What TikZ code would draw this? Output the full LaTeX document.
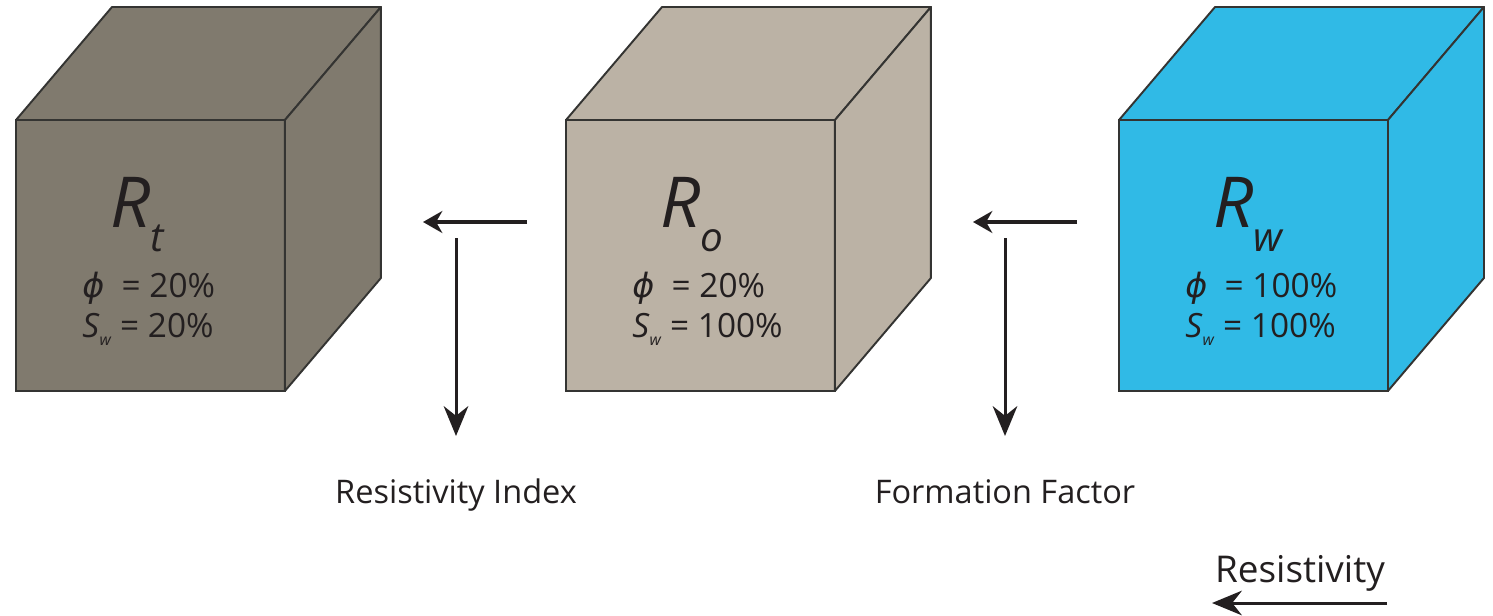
\documentclass[tikz,border=0pt]{standalone}
\usepackage{fontspec}
\setmainfont{Open Sans}
\newfontfamily\symfont{DejaVu Sans}
\usetikzlibrary{arrows.meta,calc}
\definecolor{rockdk}{RGB}{128,122,110}
\definecolor{rocklt}{RGB}{187,178,165}
\definecolor{brine}{RGB}{48,186,230}
\definecolor{edge}{RGB}{52,52,50}
\definecolor{ink}{RGB}{35,31,32}
\newcommand{\Rsub}[1]{{\fontsize{40}{40}\selectfont\textit{R}}\raisebox{-14pt}{\fontsize{23}{23}\selectfont\textit{#1}}}
\newcommand{\Swat}{\textit{S}\raisebox{-5pt}{\fontsize{9}{9}\selectfont\textit{w}}}
\newcommand{\poro}{{\symfont\itshape ϕ}}
\tikzset{
  front/.style={draw=edge, line width=1.1pt, inner sep=0pt, outer sep=0pt,
                minimum width=5.38cm, minimum height=5.42cm, anchor=north west},
  face/.style={draw=edge, line width=1.1pt, line join=round},
  rlab/.style={anchor=base west, inner sep=0pt, text=ink},
  vlab/.style={anchor=base west, inner sep=0pt, text=ink, font=\fontsize{19}{19}\selectfont},
  clab/.style={anchor=base, inner sep=0pt, text=ink, font=\fontsize{18.5}{18.5}\selectfont},
  hl/.style={-{Stealth[length=11pt, width=12.5pt]}, ink, line width=2.3pt},
  vl/.style={-{Stealth[length=17pt, width=14pt]}, ink, line width=1.7pt},
}

\begin{document}
\begin{tikzpicture}[x=0.02cm, y=-0.02cm]
  \useasboundingbox (0,0) rectangle (1493,615);
  \foreach \n/\x/\c in {rt/16/rockdk, ro/566/rocklt, rw/1119/brine}{
    \node[front, fill=\c] (\n) at (\x,120) {};
    \draw[face, fill=\c] (\n.north west) -- ++(96,-113) -- ++(269,0) -- (\n.north east) -- cycle;
    \draw[face, fill=\c] (\n.north east) -- ++(96,-113) -- ++(0,271) -- (\n.south east) -- cycle;
  }
  \node[rlab] (rt-r) at ($(rt.north west)+(94,107)$) {\Rsub{t}};
  \node[vlab] (rt-phi) at ($(rt.north west)+(66,177)$) {\poro\ \ = 20\%};
  \node[vlab] (rt-sw) at ($(rt.north west)+(66,217)$) {\Swat\ = 20\%};
  \node[rlab] (ro-r) at ($(ro.north west)+(94,107)$) {\Rsub{o}};
  \node[vlab] (ro-phi) at ($(ro.north west)+(66,177)$) {\poro\ \ = 20\%};
  \node[vlab] (ro-sw) at ($(ro.north west)+(66,217)$) {\Swat\ = 100\%};
  \node[rlab] (rw-r) at ($(rw.north west)+(94,107)$) {\Rsub{w}};
  \node[vlab] (rw-phi) at ($(rw.north west)+(66,177)$) {\poro\ \ = 100\%};
  \node[vlab] (rw-sw) at ($(rw.north west)+(66,217)$) {\Swat\ = 100\%};

  \node[clab] (ri) at (456,503) {Resistivity Index};
  \node[clab] (ff) at (1005,503) {Formation Factor};
  \node[clab, font=\fontsize{21}{21}\selectfont] (res) at (1300,582) {Resistivity};

  \coordinate (ri-h) at (527,222); \coordinate (ri-ht) at (423,222);
  \coordinate (ri-v) at (456,238); \coordinate (ri-vt) at (456,436);
  \coordinate (ff-h) at (1077,222); \coordinate (ff-ht) at (973,222);
  \coordinate (ff-v) at (1005,238); \coordinate (ff-vt) at (1005,436);
  \coordinate (res-a) at (1387,603); \coordinate (res-b) at (1212,603);
  \draw[hl] (ri-h) -- (ri-ht);
  \draw[vl] (ri-v) -- (ri-vt);
  \draw[hl] (ff-h) -- (ff-ht);
  \draw[vl] (ff-v) -- (ff-vt);
  \draw[vl] (res-a) -- (res-b);
\end{tikzpicture}
\end{document}
